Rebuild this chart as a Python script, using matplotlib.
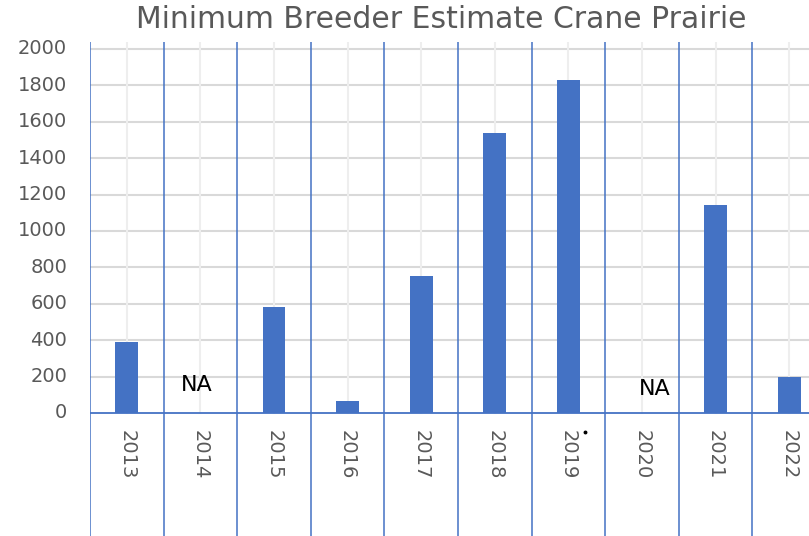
import matplotlib.pyplot as plt

# ============ DATA ============

years = ["2013", "2014", "2015", "2016", "2017", "2018", "2019", "2020", "2021", "2022"]
breeders = [390, 0, 580, 65, 750, 1540, 1830, 0, 1140, 200]
na_years = ["2014", "2020"]
na_offsets = [-0.05, 0.18]
na_heights = [154, 132]
y_ticks = [0, 200, 400, 600, 800, 1000, 1200, 1400, 1600, 1800, 2000]

# ============ STYLE ============

blue = "#4472C4"
grey_text = "#595959"
plt.rcParams["font.family"] = ["DejaVu Sans"]

fig = plt.figure(figsize=(8.09, 5.36), dpi=100)
# axes run off the right edge of the figure like the source screenshot
ax = fig.add_axes([90 / 809, 0, 10 * 73.6 / 809, (536 - 42) / 536])

x = list(range(len(years)))
ax.set_xlim(-0.5, len(years) - 0.5)
ax.set_ylim(-676, 2038)

# horizontal grid
for t in y_ticks[1:]:
    ax.axhline(t, color="#D9D9D9", lw=1.5, zorder=0)
# light vertical grid at category centres, only above the axis
for i in x:
    ax.plot([i, i], [0, 2038], color="#EEEEEE", lw=1.5, zorder=0)
# category separators run through the label area
for i in range(len(years) + 1):
    ax.axvline(i - 0.5, color=blue, lw=1.1, zorder=1)
ax.axhline(0, color=blue, lw=1.3, zorder=3)

ax.bar(x, breeders, width=0.31, color=blue, zorder=2)

for yr, off, h in zip(na_years, na_offsets, na_heights):
    ax.text(years.index(yr) + off, h, "NA", ha="center", va="center",
            fontsize=16, color="black")

# stray dot next to the 2019 label
ax.plot([6.23], [-104], marker="o", ms=1.8, color="black")

ax.set_xticks([])
ax.set_yticks([])
for s in ax.spines.values():
    s.set_visible(False)

for i, yr in enumerate(years):
    ax.text(i, -92, yr, rotation=270, ha="center", va="top",
            fontsize=14, color=grey_text)

for t in y_ticks:
    ax.text(-0.81, t, str(t), ha="right", va="center",
            fontsize=14, color=grey_text, clip_on=False)

fig.text(441 / 809, 1 - 19 / 536, "Minimum Breeder Estimate Crane Prairie",
         ha="center", va="center", fontsize=21.5, color=grey_text)

fig.savefig("out.png", dpi=100)
